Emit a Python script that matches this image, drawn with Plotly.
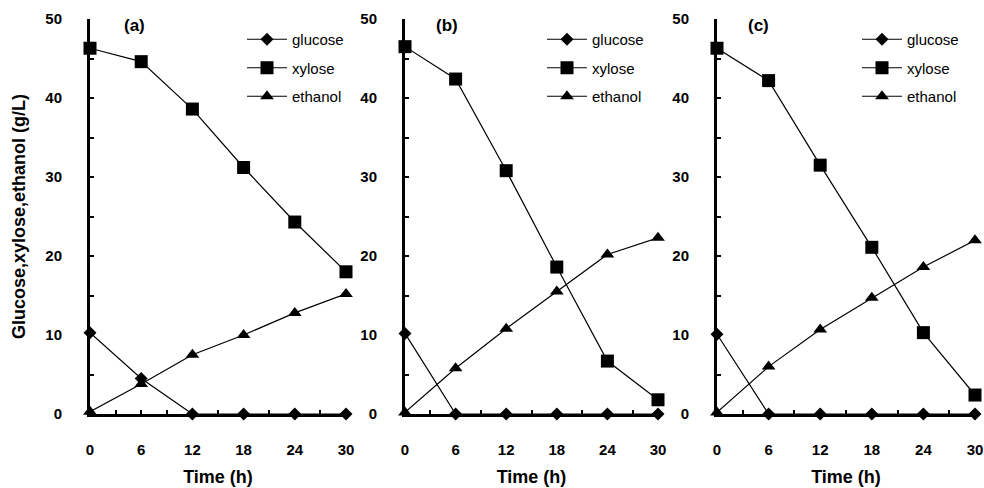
import plotly.graph_objects as go

time_h = [0, 6, 12, 18, 24, 30]

glucose_a = [10.3, 4.5, 0.0, 0.0, 0.0, 0.0]
xylose_a = [46.3, 44.6, 38.6, 31.2, 24.3, 18.0]
ethanol_a = [0.3, 3.8, 7.5, 10.0, 12.8, 15.2]

glucose_b = [10.2, 0.0, 0.0, 0.0, 0.0, 0.0]
xylose_b = [46.5, 42.4, 30.8, 18.6, 6.7, 1.8]
ethanol_b = [0.2, 5.8, 10.8, 15.5, 20.2, 22.3]

glucose_c = [10.1, 0.0, 0.0, 0.0, 0.0, 0.0]
xylose_c = [46.3, 42.2, 31.5, 21.1, 10.3, 2.4]
ethanol_c = [0.2, 6.0, 10.7, 14.7, 18.6, 22.0]

x_tick_vals = [0, 3, 6, 9, 12, 15, 18, 21, 24, 27, 30]
x_tick_text = ["0", "", "6", "", "12", "", "18", "", "24", "", "30"]
y_tick_vals = [0, 5, 10, 15, 20, 25, 30, 35, 40, 45, 50]
y_tick_text = ["0", "", "10", "", "20", "", "30", "", "40", "", "50"]

panel_labels = ["(a)", "(b)", "(c)"]
series_names = ["glucose", "xylose", "ethanol"]

W, H = 984, 488
FONT = "Liberation Sans, Arial, sans-serif"

panels = [
    (glucose_a, xylose_a, ethanol_a),
    (glucose_b, xylose_b, ethanol_b),
    (glucose_c, xylose_c, ethanol_c),
]
x_px = [(90, 346), (405, 658), (717, 975)]
y_px = (19, 414)
legend_px = [(242, 23), (542, 23), (857, 23)]
label_px = [134, 447, 758]
symbols = ["diamond", "square", "triangle-up"]
sizes = [10, 13, 12]

fig = go.Figure()
layout = dict(
    width=W, height=H,
    margin=dict(l=0, r=0, t=0, b=0, autoexpand=False),
    paper_bgcolor="white", plot_bgcolor="white",
    showlegend=True,
    font=dict(family=FONT, color="black"),
    annotations=[],
)

for i, data in enumerate(panels):
    sfx = "" if i == 0 else str(i + 1)
    xa, ya = "x" + sfx, "y" + sfx
    lg = "legend" + sfx
    for j, vals in enumerate(data):
        fig.add_trace(go.Scatter(
            x=time_h, y=vals, name=series_names[j],
            mode="lines+markers",
            line=dict(color="black", width=1.2),
            marker=dict(symbol=symbols[j], size=sizes[j], color="black"),
            xaxis=xa, yaxis=ya, legend=lg,
            legendgroup=f"{i}-{j}",
            cliponaxis=False,
        ))
    x0, x1 = x_px[i]
    xd = dict(
        domain=[x0 / W, x1 / W], range=[0, 30], anchor=ya,
        tickmode="array", tickvals=x_tick_vals, ticktext=x_tick_text,
        ticks="inside", ticklen=4, tickwidth=2, tickcolor="black",
        showline=True, linewidth=3, linecolor="black",
        showgrid=False, zeroline=False,
        tickfont=dict(family=FONT, size=15, color="black", weight="bold"),
        ticklabelstandoff=20,
        title=dict(text="<b>Time (h)</b>", font=dict(family=FONT, size=18, color="black"), standoff=14),
    )
    yd = dict(
        domain=[1 - y_px[1] / H, 1 - y_px[0] / H], range=[0, 50], anchor=xa,
        tickmode="array", tickvals=y_tick_vals, ticktext=y_tick_text,
        ticks="inside", ticklen=4, tickwidth=2, tickcolor="black",
        showline=True, linewidth=3, linecolor="black",
        showgrid=False, zeroline=False,
        tickfont=dict(family=FONT, size=15, color="black", weight="bold"),
        ticklabelstandoff=22,
    )
    if i == 0:
        yd["title"] = dict(text="<b>Glucose,xylose,ethanol (g/L)</b>",
                           font=dict(family=FONT, size=18, color="black"), standoff=16)
    layout["xaxis" + sfx] = xd
    layout["yaxis" + sfx] = yd
    lx, ly = legend_px[i]
    layout[lg] = dict(
        x=lx / W, y=1 - ly / H, xanchor="left", yanchor="top",
        bgcolor="rgba(0,0,0,0)", borderwidth=0,
        font=dict(family=FONT, size=15, color="black"),
        traceorder="grouped", tracegroupgap=6, itemwidth=40,
    )
    layout["annotations"].append(dict(
        x=label_px[i] / W, y=1 - 25 / H, xref="paper", yref="paper",
        text="<b>" + panel_labels[i] + "</b>", showarrow=False,
        font=dict(family=FONT, size=17, color="black"),
        xanchor="center", yanchor="middle",
    ))

fig.update_layout(**layout)
fig.write_html("out.html", config={"displayModeBar": False},
               post_script="document.body.style.margin='0';")
